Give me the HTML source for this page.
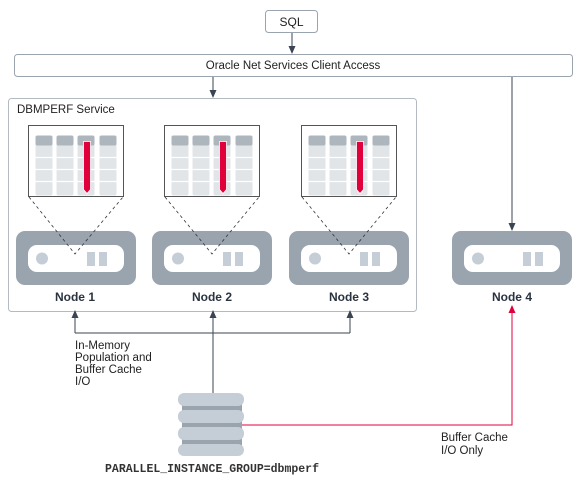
<!DOCTYPE html>
<html><head><style>body{margin:0;background:#fff}svg{display:block}text{font-family:"Liberation Sans",sans-serif;fill:#222}</style></head><body>
<svg width="579" height="482" viewBox="0 0 579 482" xmlns="http://www.w3.org/2000/svg">
<defs>
<marker id="a" markerWidth="8" markerHeight="8" refX="7" refY="4" orient="auto" markerUnits="userSpaceOnUse"><path d="M0,0.5 L8,4 L0,7.5 Z" fill="#3a4452"/></marker>
<marker id="r" markerWidth="8" markerHeight="8" refX="7" refY="4" orient="auto" markerUnits="userSpaceOnUse"><path d="M0,0.5 L8,4 L0,7.5 Z" fill="#e0003c"/></marker>
<g id="tbl">
<rect x="0" y="0" width="95" height="71" fill="#fff" stroke="#555" stroke-width="1"/>
<g fill="#e1e5e8">
<rect x="7" y="10" width="17" height="60" rx="2"/><rect x="28" y="10" width="17" height="60" rx="2"/><rect x="49" y="10" width="17" height="60" rx="2"/><rect x="71" y="10" width="17" height="60" rx="2"/>
</g>
<g fill="#aeb6bd">
<rect x="7" y="10" width="17" height="10" rx="2"/><rect x="28" y="10" width="17" height="10" rx="2"/><rect x="49" y="10" width="17" height="10" rx="2"/><rect x="71" y="10" width="17" height="10" rx="2"/>
</g>
<g stroke="#fff" stroke-width="1.2"><line x1="5" y1="32" x2="90" y2="32"/><line x1="5" y1="44" x2="90" y2="44"/><line x1="5" y1="56" x2="90" y2="56"/></g>
<path d="M55,16 H62 V64 L58.5,68 L55,64 Z" fill="#e0003c" stroke="#fff" stroke-width="0.8"/>
</g>
<g id="srv">
<rect x="0" y="0" width="120" height="54" rx="9" fill="#9aa4ae"/>
<rect x="12" y="14" width="96" height="27" rx="9" fill="#fff"/>
<circle cx="26" cy="27.5" r="6" fill="#c5ced6"/>
<rect x="71" y="21" width="8" height="14" fill="#c5ced6"/><rect x="83" y="21" width="8" height="14" fill="#c5ced6"/>
</g>
</defs>
<rect x="265.5" y="10.5" width="52" height="22" rx="3" fill="#fff" stroke="#9aa4ae"/>
<text x="291.5" y="26" font-size="12" text-anchor="middle">SQL</text>
<line x1="292" y1="33" x2="292" y2="53" stroke="#3a4452" marker-end="url(#a)"/>
<rect x="14.5" y="54.5" width="558" height="22" rx="3" fill="#fff" stroke="#9aa4ae"/>
<text x="293" y="69" font-size="11.5" text-anchor="middle">Oracle Net Services Client Access</text>
<line x1="213" y1="77" x2="213" y2="97" stroke="#3a4452" marker-end="url(#a)"/>
<line x1="512" y1="77" x2="512" y2="230" stroke="#3a4452" marker-end="url(#a)"/>
<rect x="8.5" y="98.5" width="408" height="213" rx="3" fill="#fff" stroke="#b3bac1"/>
<text x="17" y="113" font-size="11.5">DBMPERF Service</text>
<use href="#tbl" x="28.5" y="125.5"/><use href="#tbl" x="164.5" y="125.5"/><use href="#tbl" x="301.5" y="125.5"/>
<use href="#srv" x="16" y="231"/><use href="#srv" x="152" y="231"/><use href="#srv" x="289" y="231"/><use href="#srv" x="452" y="231"/>
<g stroke="#333" stroke-dasharray="3,3" stroke-width="0.8" fill="none">
<path d="M29,197 L75,254 L123,197"/><path d="M165,197 L212,254 L259,197"/><path d="M302,197 L349,254 L396,197"/>
</g>
<g font-size="12" font-weight="bold" text-anchor="middle">
<text x="75" y="301" style="fill:#2a3340">Node 1</text><text x="212" y="301" style="fill:#2a3340">Node 2</text><text x="349" y="301" style="fill:#2a3340">Node 3</text><text x="512" y="301" style="fill:#2a3340">Node 4</text>
</g>
<g stroke="#3a4452" fill="none">
<path d="M75,333 H350"/>
<line x1="75" y1="333" x2="75" y2="311" marker-end="url(#a)"/>
<line x1="350" y1="333" x2="350" y2="311" marker-end="url(#a)"/>
<line x1="213" y1="393" x2="213" y2="311" marker-end="url(#a)"/>
</g>
<g font-size="11.5" style="fill:#333"><text x="75" y="349">In-Memory</text><text x="75" y="361">Population and</text><text x="75" y="373">Buffer Cache</text><text x="75" y="385">I/O</text></g>
<path d="M240,425 H512 V306" stroke="#e0003c" fill="none" marker-end="url(#r)"/>
<g fill="#c5ced6">
<rect x="182" y="404" width="60" height="50" fill="#9aa4ae"/>
<rect x="178" y="393" width="66" height="13" rx="6"/><rect x="178" y="410" width="66" height="13" rx="6"/><rect x="178" y="427" width="66" height="13" rx="6"/><rect x="178" y="444" width="66" height="12" rx="6"/>
</g>
<text x="212" y="472" font-size="11.5" font-weight="bold" text-anchor="middle" style="font-family:'Liberation Mono',monospace;fill:#333">PARALLEL_INSTANCE_GROUP=dbmperf</text>
<g font-size="11.5" style="fill:#333"><text x="441" y="441">Buffer Cache</text><text x="441" y="454">I/O Only</text></g>
</svg>
</body></html>
